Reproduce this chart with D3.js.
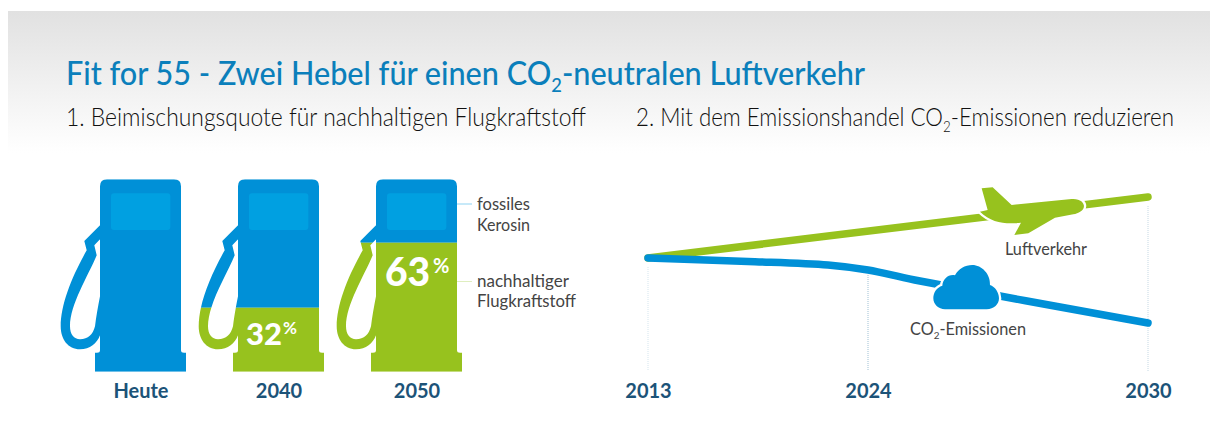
<!DOCTYPE html>
<html lang="de">
<head>
<meta charset="utf-8">
<title>Fit for 55</title>
<script src="https://cdn.jsdelivr.net/npm/d3@7"></script>
<style>
  html, body { margin: 0; background: #fff; }
  svg { display: block; }
  text { font-family: "Lato", "Open Sans", sans-serif; }
</style>
</head>
<body>
<script>
// pumps
const pumpLabels = ["Heute", "2040", "2050"];
const fillLevels = [0, 33.3, 67];       // height of the green part as drawn, in %
const quotaLabels = [null, "32", "63"]; // printed share

// lines: years and index values (2013 = 100)
const years = [2013, 2024, 2030];
const airYears = [2013, 2030];
const airValues = [100, 130.5];
const co2Years = [2013, 2018, 2022, 2024, 2025, 2030];
const co2Values = [100, 98.3, 96.5, 94, 89, 67.5];

const blue = "#0090d7", green = "#97c21e", navy = "#1c5378", grey = "#444";

const svg = d3.select("body").append("svg").attr("width", 1210).attr("height", 435);
const defs = svg.append("defs");

const grad = defs.append("linearGradient").attr("id", "head").attr("x2", 0).attr("y2", 1);
grad.append("stop").attr("offset", 0).attr("stop-color", "#e1e1e1");
grad.append("stop").attr("offset", 1).attr("stop-color", "#ffffff");
svg.append("rect").attr("x", 8).attr("y", 11).attr("width", 1202).attr("height", 142).attr("fill", "url(#head)");

// headings, the CO2 subscript comes as a nested array
function addText(x, y, parts, size, color, weight, len) {
    const t = svg.append("text").attr("x", x).attr("y", y)
        .attr("font-size", size).attr("fill", color).attr("font-weight", weight);
    parts.forEach((p, i) => {
        if (Array.isArray(p)) {
            t.append("tspan").text(p[0]).attr("font-size", size * 0.6).attr("dy", size * 0.22);
        } else {
            const s = t.append("tspan").text(p);
            if (i > 0) s.attr("dy", -size * 0.22);
        }
    });
    if (len) t.attr("textLength", len).attr("lengthAdjust", "spacingAndGlyphs");
    return t;
}
addText(66, 85, ["Fit for 55 - Zwei Hebel für einen CO", ["2"], "-neutralen Luftverkehr"], 33, "#0b7fbb", 500, 799);
addText(66, 126, ["1. Beimischungsquote für nachhaltigen Flugkraftstoff"], 25, "#111", 300, 520);
addText(636, 126, ["2. Mit dem Emissionshandel CO", ["2"], "-Emissionen reduzieren"], 25, "#111", 300, 538);

// pumps
const pumpX = d3.scalePoint().domain(pumpLabels).range([141, 417]);
const levelY = d3.scaleLinear().domain([0, 100]).range([192.4, 0]); // local to the pump
const pumpPath = "M0,7 Q0,0 7,0 H74 Q81,0 81,7 V171 Q81,173.5 84,173.5 H86 V192.4 H-5 V173.5 H-3 Q0,173.5 0,171 Z"
    + "M0,46 L-15.7,61.7 L-13.3,71 C-28,97 -39.3,125 -39.3,147 C-39.3,160 -32,170 -20,170 C-10,170 -3,164 0,156"
    + " L0,117 C-2,127 -4,138 -5,147 C-7,155 -12,160 -20,160 C-26,160 -30,155 -30,147 C-30,125 -12,97 -3.3,76 L-5.7,66 L0,60 Z";

const pumps = svg.selectAll("g.pump").data(pumpLabels).enter().append("g")
    .attr("class", "pump")
    .attr("transform", d => `translate(${pumpX(d) - 41},179.3)`);

pumps.each(function (d, i) {
    const g = d3.select(this);
    const lvl = levelY(fillLevels[i]);
    defs.append("clipPath").attr("id", "top" + i).append("rect")
        .attr("x", -50).attr("y", 0).attr("width", 150).attr("height", lvl);
    defs.append("clipPath").attr("id", "bot" + i).append("rect")
        .attr("x", -50).attr("y", lvl).attr("width", 150).attr("height", 192.4 - lvl);
    g.append("path").attr("d", pumpPath).attr("fill", blue).attr("clip-path", `url(#top${i})`);
    g.append("path").attr("d", pumpPath).attr("fill", green).attr("clip-path", `url(#bot${i})`);
    g.append("rect").attr("x", 11).attr("y", 14).attr("width", 59.3).attr("height", 36.7)
        .attr("rx", 3).attr("fill", "#00a0e1");
});

svg.selectAll("text.pump-label").data(pumpLabels).enter().append("text")
    .attr("class", "pump-label")
    .attr("x", d => pumpX(d)).attr("y", 398)
    .attr("text-anchor", "middle").attr("font-size", 20).attr("font-weight", 700).attr("fill", navy)
    .text(d => d);

// printed shares
const quotaPos = [null, {x: 246, y: 345, s: 31, px: 283, py: 334, ps: 17}, {x: 385, y: 286, s: 39, px: 433, py: 273, ps: 20}];
quotaLabels.forEach((q, i) => {
    if (!q) return;
    const p = quotaPos[i];
    svg.append("text").attr("x", p.x).attr("y", p.y).attr("font-size", p.s)
        .attr("font-weight", 900).attr("fill", "#fff").text(q);
    svg.append("text").attr("x", p.px).attr("y", p.py).attr("font-size", p.ps)
        .attr("font-weight", 700).attr("fill", "#fff").text("%");
});

// pump legend
svg.append("line").attr("x1", 457).attr("x2", 472).attr("y1", 204).attr("y2", 204).attr("stroke", "#8fd3f2");
svg.append("line").attr("x1", 457).attr("x2", 472).attr("y1", 281.5).attr("y2", 281.5).attr("stroke", "#dfeebf");
[["fossiles", 210, 53], ["Kerosin", 231, 53], ["nachhaltiger", 287, 92], ["Flugkraftstoff", 307, 99]].forEach(d => {
    svg.append("text").attr("x", 477).attr("y", d[1]).attr("font-size", 16.5).attr("fill", grey)
        .attr("textLength", d[2]).attr("lengthAdjust", "spacingAndGlyphs").text(d[0]);
});

// line chart
const x = d3.scaleLinear().domain(years).range([648, 868, 1148]);
const y = d3.scaleLinear().domain([40, 140]).range([378, 178]);

const xAxis = d3.axisBottom(x).tickValues(years).tickFormat(d3.format("d")).tickSize(0);
const axisG = svg.append("g").attr("transform", "translate(0,381)").call(xAxis);
axisG.select(".domain").remove();
axisG.selectAll("text").attr("font-size", 20).attr("font-weight", 700).attr("fill", navy)
    .style("font-family", '"Lato", "Open Sans", sans-serif');

// dotted guides
const guideTop = [y(100) + 9, y(94) + 5, y(130.5) + 9];
const guideColor = ["#d5e5ee", "#9fc0d4", "#c5d8e3"];
svg.selectAll("line.guide").data(years).enter().append("line")
    .attr("class", "guide")
    .attr("x1", d => x(d)).attr("x2", d => x(d))
    .attr("y1", (d, i) => guideTop[i]).attr("y2", 371)
    .attr("stroke", (d, i) => guideColor[i]).attr("stroke-dasharray", "1 1");

const line = d3.line().x(d => x(d[0])).y(d => y(d[1])).curve(d3.curveCatmullRom);
svg.append("path").datum(d3.zip(airYears, airValues)).attr("d", line)
    .attr("fill", "none").attr("stroke", green).attr("stroke-width", 7.5).attr("stroke-linecap", "round");
svg.append("path").datum(d3.zip(co2Years, co2Values)).attr("d", line)
    .attr("fill", "none").attr("stroke", blue).attr("stroke-width", 7.5).attr("stroke-linecap", "round");

// icons sit on the lines with a white halo
const icons = svg.append("g").attr("transform", "translate(860,170) scale(0.3333)")
    .attr("stroke", "#fff").attr("stroke-width", 14).attr("paint-order", "stroke").attr("stroke-linejoin", "round");
icons.append("path").attr("fill", green)
    .attr("d", "M365,55 L398,52 L455,105 L635,87 C660,85 672,98 672,108 C672,122 655,130 640,133 L585,143 L505,190 L463,195 L483,158 C440,163 395,160 360,125 L383,120 Z");
icons.append("path").attr("fill", blue)
    .attr("d", "M255,418 H380 C402,418 417,403 417,385 C417,367 405,350 390,345 C392,312 365,285 337,285 C315,285 295,297 285,316 C265,312 248,328 247,347 C230,352 220,368 220,385 C220,403 235,418 255,418 Z");

svg.append("text").attr("x", 1005).attr("y", 255).attr("font-size", 16.5).attr("fill", grey)
    .attr("textLength", 82).attr("lengthAdjust", "spacingAndGlyphs").text("Luftverkehr");
const co2 = svg.append("text").attr("x", 910).attr("y", 335).attr("font-size", 16.5).attr("fill", grey)
    .attr("textLength", 116).attr("lengthAdjust", "spacingAndGlyphs");
co2.append("tspan").text("CO");
co2.append("tspan").text("2").attr("font-size", 10).attr("dy", 4);
co2.append("tspan").text("-Emissionen").attr("dy", -4);
</script>
</body>
</html>
